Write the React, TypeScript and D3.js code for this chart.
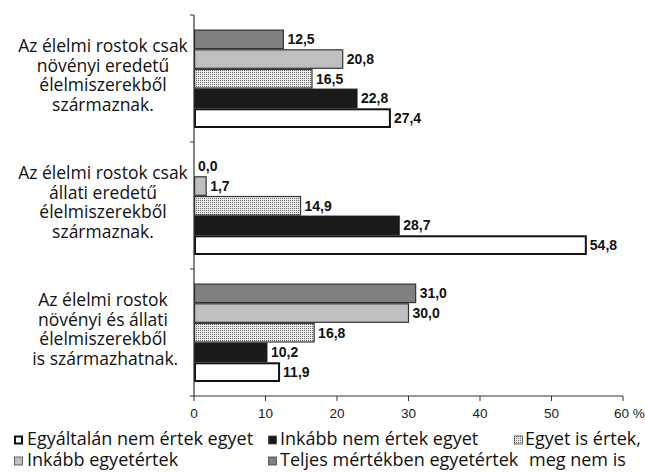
import React from "react";
import * as d3 from "d3";

const categories: string[][] = [
  ["Az élelmi rostok csak", "növényi eredetű", "élelmiszerekből", "származnak."],
  ["Az élelmi rostok csak", "állati eredetű", "élelmiszerekből", "származnak."],
  ["Az élelmi rostok", "növényi és állati", "élelmiszerekből", "\u00A0is származhatnak."],
];

const seriesNames = [
  "Teljes mértékben egyetértek",
  "Inkább egyetértek",
  "Egyet is értek, meg nem is",
  "Inkább nem értek egyet",
  "Egyáltalán nem értek egyet",
];

const teljes = [12.5, 0.0, 31.0];
const inkabbEgyet = [20.8, 1.7, 30.0];
const egyetIs = [16.5, 14.9, 16.8];
const inkabbNem = [22.8, 28.7, 10.2];
const egyaltalan = [27.4, 54.8, 11.9];

const seriesValues = [teljes, inkabbEgyet, egyetIs, inkabbNem, egyaltalan];

const xTicks = [0, 10, 20, 30, 40, 50, 60];

const fills = ["#808080", "#bfbfbf", "url(#dots)", "#1a1a1a", "#ffffff"];
const strokes = ["#333", "#333", "#333", "#111", "#111"];
const strokeW = [1.2, 1.2, 1.2, 1, 2];

const labelFont = "'Open Sans', 'Noto Sans', sans-serif";
const numFont = "'Liberation Sans', Arial, sans-serif";

export default function App() {
  const W = 645, H = 472;
  const x = d3.scaleLinear().domain([0, 60]).range([194, 623]);
  const y = d3.scaleBand<number>().domain([0, 1, 2]).range([15, 396]).padding(0);
  const bw = y.bandwidth();
  const yi = d3.scaleBand<number>().domain([0, 1, 2, 3, 4]).range([14.5, bw - 14]).padding(0);
  const fmt = (v: number) => d3.format(".1f")(v).replace(".", ",");

  const legendItems = [
    { s: 4, x: 14, y: 445, dx: 13, text: "Egyáltalán nem értek egyet" },
    { s: 3, x: 268, y: 445, dx: 12, text: "Inkább nem értek egyet" },
    { s: 2, x: 514, y: 445, dx: 11, text: "Egyet is értek," },
    { s: 1, x: 14, y: 466, dx: 13, text: "Inkább egyetértek" },
    { s: 0, x: 268, y: 466, dx: 12, text: "Teljes mértékben egyetértek" },
  ];

  return (
    <svg width={W} height={H} style={{ position: "absolute", left: 0, top: 0, background: "#fff" }}>
      <defs>
        <pattern id="dots" width="2" height="2" patternUnits="userSpaceOnUse">
          <rect width="2" height="2" fill="#ececec" />
          <rect width="1" height="1" fill="#6a6a6a" />
        </pattern>
      </defs>

      {/* category labels */}
      {categories.map((lines, ci) => {
        const cy = (y(ci) as number) + bw / 2 - 3;
        const lh = 19.5;
        const first = cy - ((lines.length - 1) / 2) * lh + 6;
        return (
          <text key={ci} x={103} textAnchor="middle" fontFamily={labelFont} fontSize={17.5} fill="#111">
            {lines.map((l, li) => (
              <tspan key={li} x={103} y={first + li * lh}>{l}</tspan>
            ))}
          </text>
        );
      })}

      {/* bars */}
      {categories.map((_, ci) =>
        seriesValues.map((vals, si) => {
          const v = vals[ci];
          const by = (y(ci) as number) + (yi(si) as number);
          const h = yi.bandwidth();
          const w = x(v) - x(0);
          const sw = strokeW[si];
          return (
            <g key={`${ci}-${si}`}>
              {w > 0 && (
                <rect x={x(0) + sw / 2} y={by + sw / 2} width={Math.max(0, w - sw / 2)} height={h - sw}
                  fill={fills[si]} stroke={strokes[si]} strokeWidth={sw} />
              )}
              <text x={x(v) + 4} y={by + h / 2 + 5} fontFamily={numFont} fontWeight="bold" fontSize={14} fill="#111">
                {fmt(v)}
              </text>
            </g>
          );
        })
      )}

      {/* y axis */}
      <line x1={194} x2={194} y1={15} y2={396} stroke="#333" strokeWidth={1.2} />
      {[0, 1, 2, 3].map((i) => {
        const yy = i < 3 ? (y(i) as number) : 396;
        return <line key={i} x1={190} x2={194} y1={yy} y2={yy} stroke="#333" strokeWidth={1} />;
      })}

      {/* x axis */}
      <line x1={194} x2={623} y1={396} y2={396} stroke="#333" strokeWidth={1.2} />
      {xTicks.map((t) => (
        <g key={t}>
          <line x1={x(t)} x2={x(t)} y1={396} y2={401} stroke="#333" strokeWidth={1} />
          <text x={x(t)} y={418} textAnchor={t === 60 ? "start" : "middle"} dx={t === 60 ? -9 : 0}
            fontFamily={numFont} fontSize={13.5} fill="#222">
            {t === 60 ? "60 %" : t}
          </text>
        </g>
      ))}

      {/* legend */}
      {legendItems.map((it, i) => (
        <g key={i}>
          <rect x={it.x + (it.s === 4 ? 1 : 0.5)} y={it.y - 9 + (it.s === 4 ? 0.5 : 0)}
            width={it.s === 4 ? 7 : 8} height={it.s === 4 ? 7 : 8}
            fill={fills[it.s]} stroke={it.s === 4 ? "#111" : "#444"} strokeWidth={it.s === 4 ? 2 : 0.8} />
          <text x={it.x + it.dx} y={it.y} fontFamily={labelFont} fontSize={18} fill="#111">{it.text}</text>
        </g>
      ))}
      <text x={529} y={466} fontFamily={labelFont} fontSize={18} fill="#111">meg nem is</text>
    </svg>
  );
}
